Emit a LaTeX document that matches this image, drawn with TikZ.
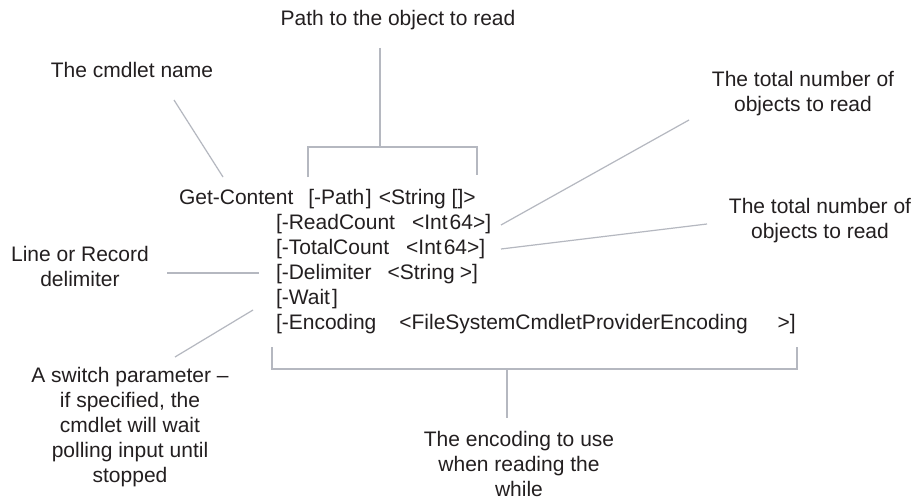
\documentclass[tikz,border=0pt]{standalone}
\usepackage{fontspec}
\setmainfont{Liberation Sans}
\definecolor{txt}{HTML}{231F20}
\definecolor{ln}{HTML}{B5B8C0}
\newcommand\ml[1]{\begin{tabular}[t]{@{}c@{}}#1\end{tabular}}
\begin{document}
\begin{tikzpicture}[x=1pt,y=-1pt,
  every node/.style={inner sep=0pt, outer sep=0pt, text=txt, font=\fontsize{21}{25}\selectfont},
  code/.style={anchor=base west},
  lbl/.style={anchor=base},
  conn/.style={draw=ln, line width=1.2pt}]
\useasboundingbox[fill=white] (0,0) rectangle (918,500);

% labels
\node[lbl] (path) at (398,26) {Path to the object to read};
\node[lbl] (cmd) at (132,78) {The cmdlet name};
\node[lbl] (tot1) at (803,87) {\ml{The total number of\\objects to read}};
\node[lbl] (tot2) at (820,213) {\ml{The total number of\\objects to read}};
\node[lbl] (lor) at (80,261) {\ml{Line or Record\\delimiter}};
\node[lbl] (sw) at (130,382) {\ml{A switch parameter –\\if specified, the\\cmdlet will wait\\polling input until\\stopped}};
\node[lbl] (enc) at (519,446) {\ml{The encoding to use\\when reading the\\while}};

% code lines
\node[code] (l0) at (179,204) {Get-Content\hspace{15pt}{}[-Path\kern1.5pt]\hspace{7pt}<String []>};
\node[code] (l1) at (276,229) {{}[-ReadCount\hspace{17pt}<Int\kern2pt 64>]};
\node[code] (l2) at (276,254) {{}[-TotalCount\hspace{17pt}<Int\kern2pt 64>]};
\node[code] (l3) at (276,279) {{}[-Delimiter\hspace{16pt}<String\kern5pt>]};
\node[code] (l4) at (276,304) {{}[-Wait\kern2pt]};
\node[code] (l5) at (276,329) {{}[-Encoding\hspace{23pt}<FileSystemCmdletProviderEncoding\hspace{30pt}>]};

% connector points
\coordinate (a1) at (174,100); \coordinate (a2) at (223,177);
\coordinate (p0) at (380,48); \coordinate (pm) at (380,147);
\coordinate (pl) at (308,147); \coordinate (pld) at (308,177);
\coordinate (pr) at (477,147); \coordinate (prd) at (477,175);
\coordinate (r1) at (501,225); \coordinate (r2) at (689,120);
\coordinate (t1) at (501,249); \coordinate (t2) at (707,224);
\coordinate (d1) at (167,273); \coordinate (d2) at (259,273);
\coordinate (w1) at (175,357); \coordinate (w2) at (253,310);
\coordinate (bl) at (272,347); \coordinate (blb) at (272,369);
\coordinate (br) at (797,347); \coordinate (brb) at (797,369);
\coordinate (bm) at (507,369); \coordinate (bm2) at (507,418);

\draw[conn] (a1) -- (a2);
\draw[conn] (p0) -- (pm);
\draw[conn] (pld) -- (pl) -- (pr) -- (prd);
\draw[conn] (r1) -- (r2);
\draw[conn] (t1) -- (t2);
\draw[conn] (d1) -- (d2);
\draw[conn] (w1) -- (w2);
\draw[conn] (bl) -- (blb) -- (brb) -- (br);
\draw[conn] (bm) -- (bm2);
\end{tikzpicture}
\end{document}
